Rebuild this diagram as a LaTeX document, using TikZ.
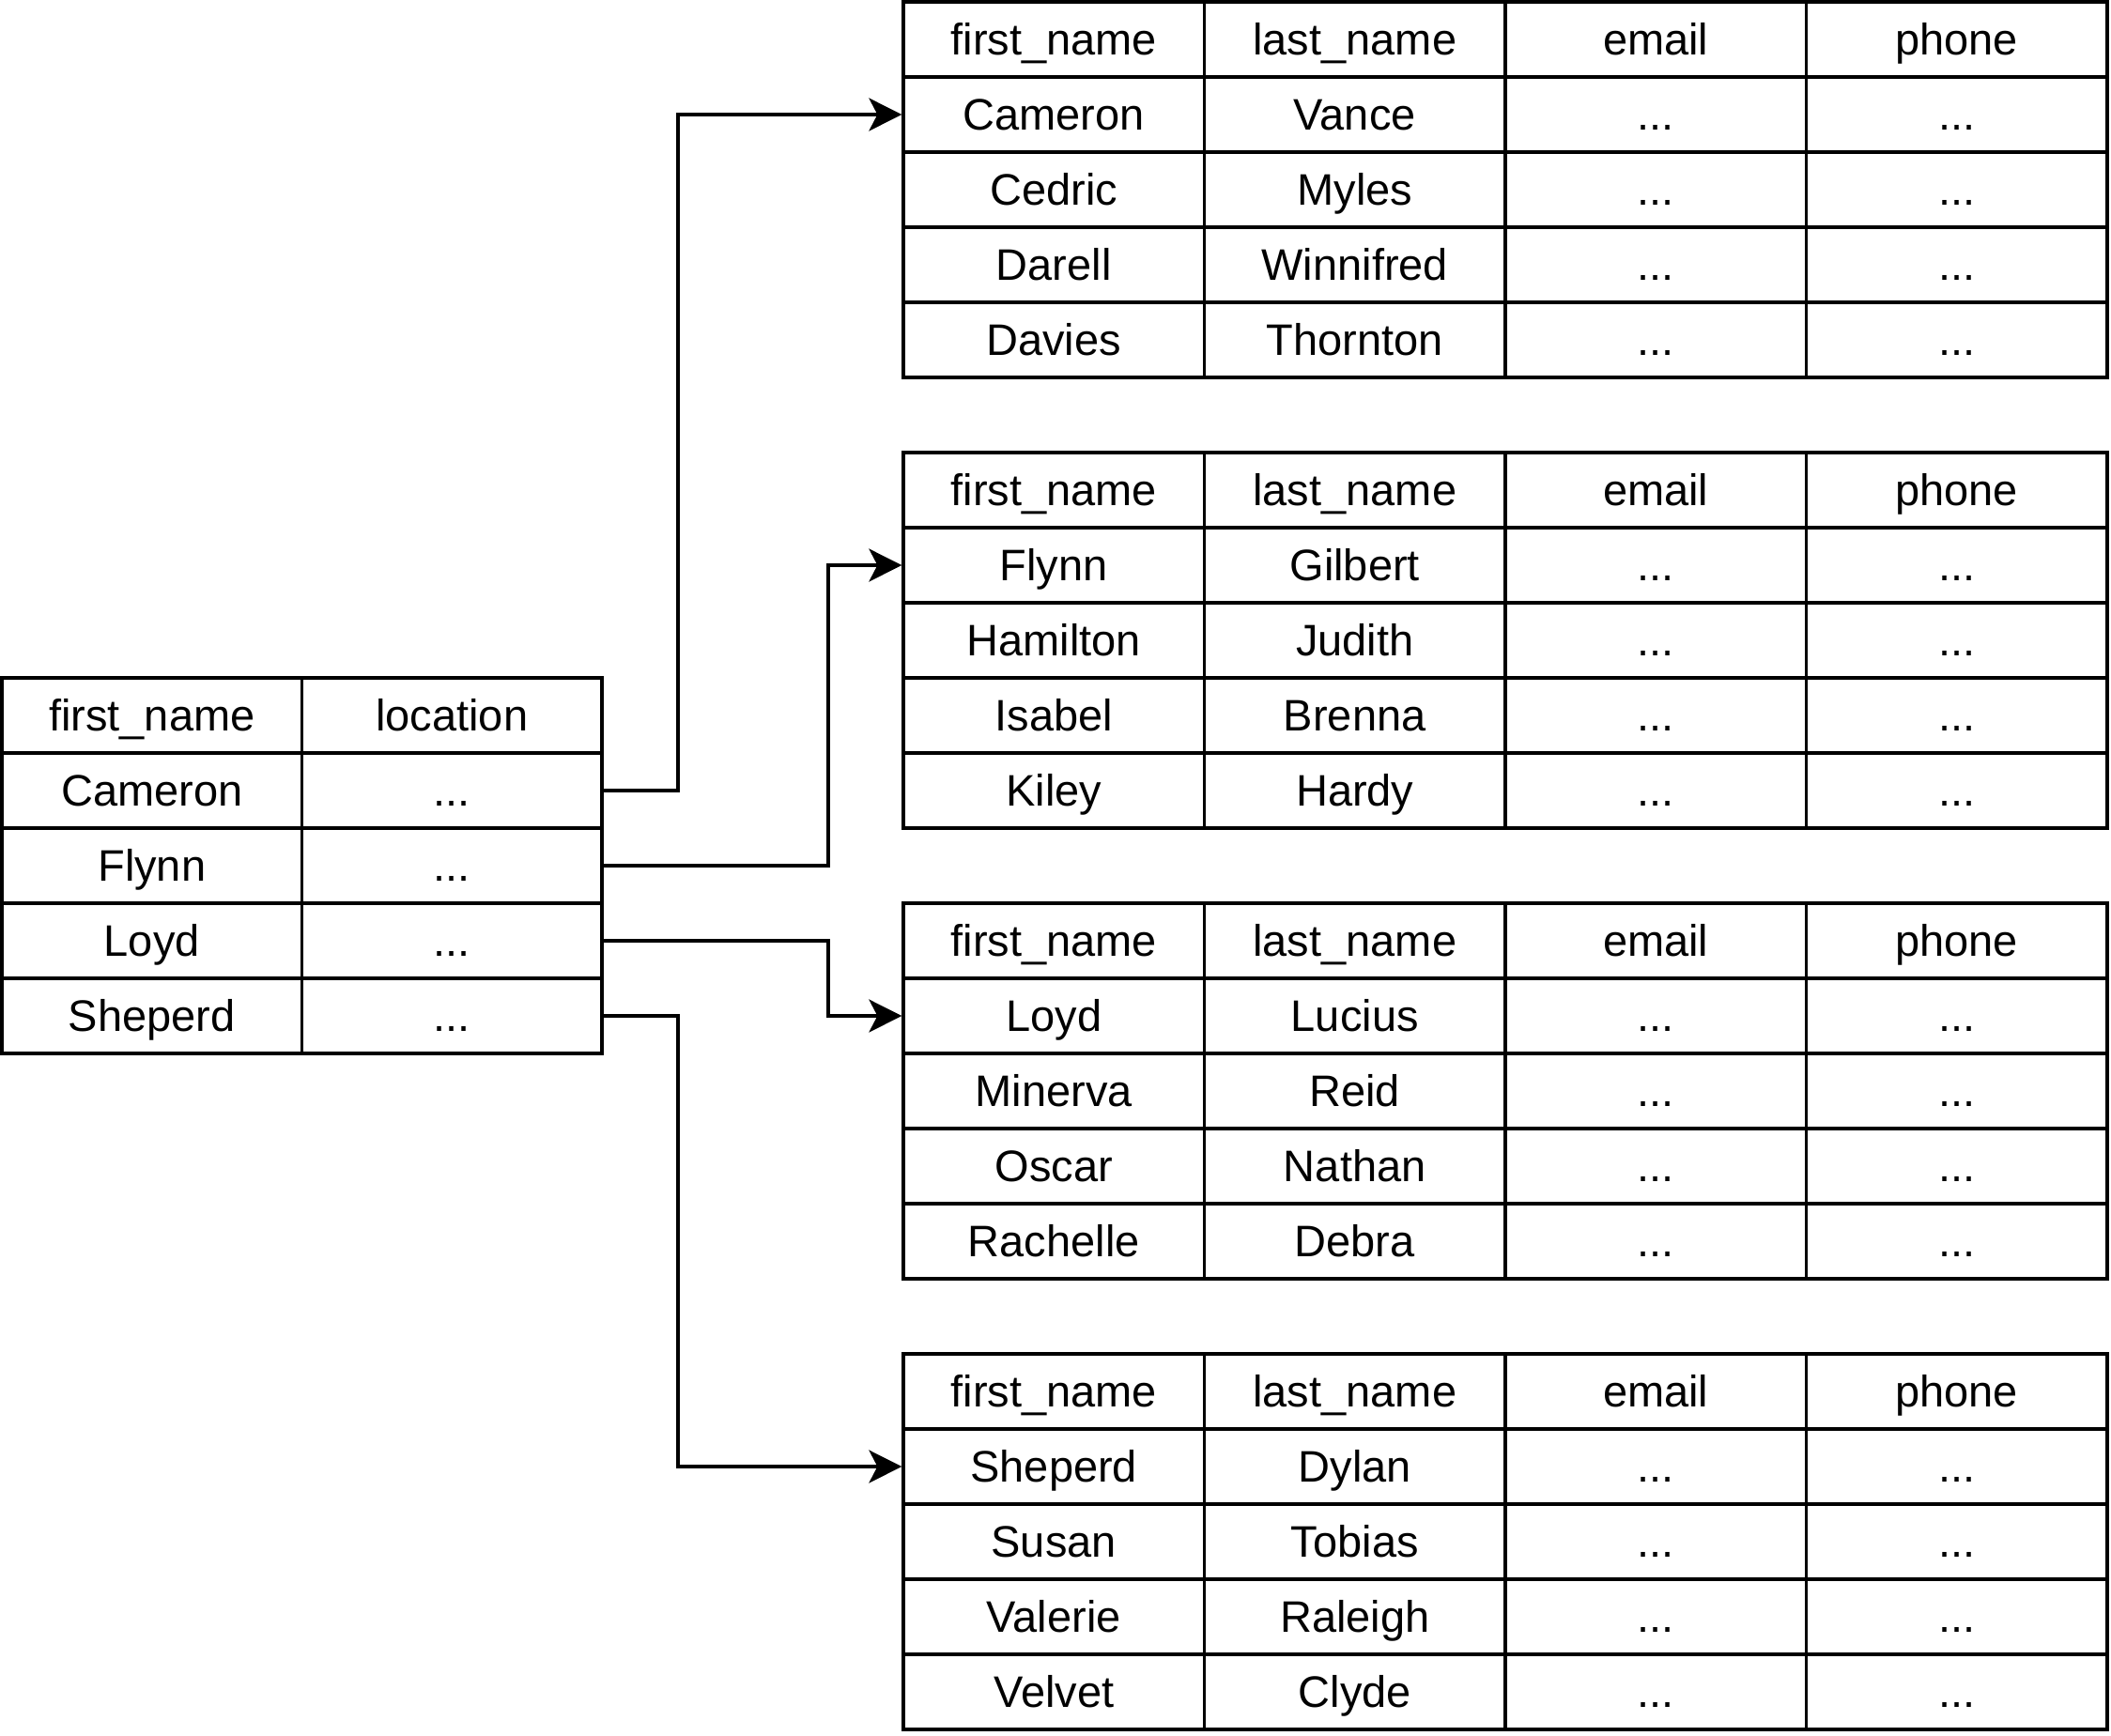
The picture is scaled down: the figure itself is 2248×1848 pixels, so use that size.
\documentclass[tikz,border=0pt]{standalone}
\usepackage{fontspec}
\setmainfont{Liberation Sans}
\usetikzlibrary{arrows.meta}
\newcommand\cellfont{\fontsize{23.5}{28}\selectfont}
\tikzset{
  cell/.style={draw, line width=1.65pt, rectangle, inner sep=0pt,
    minimum width=160.25pt, minimum height=40pt,
    font=\cellfont, text height=16.4pt, text depth=0pt},
  lcell/.style={cell, minimum width=159.75pt},
  link/.style={line width=1.65pt, -{Stealth[length=17.5pt,width=17.5pt,inset=4.5pt]}}
}
\newcommand\rtab[3]{%
  \foreach \h [count=\c] in {first\_name,last\_name,email,phone}
    \node[cell] (#1-0-\c) at ({962+320.5*(\c-1)+160.25},{#2+40}) {\h};
  \foreach \f/\l [count=\r] in {#3} {
    \node[cell] (#1-\r-1) at (1122.25,{#2+40+80*\r}) {\f};
    \node[cell] (#1-\r-2) at (1442.75,{#2+40+80*\r}) {\l};
    \node[cell] (#1-\r-3) at (1763.25,{#2+40+80*\r}) {...};
    \node[cell] (#1-\r-4) at (2083.75,{#2+40+80*\r}) {...};
  }
}
\begin{document}
\begin{tikzpicture}[x=0.5pt,y=-0.5pt]
\useasboundingbox (0,0) rectangle (2248,1848);
% left table
\node[lcell] (L-0-1) at (161.75,762) {first\_name};
\node[lcell] (L-0-2) at (481.25,762) {location};
\foreach \f [count=\r] in {Cameron,Flynn,Loyd,Sheperd} {
  \node[lcell] (L-\r-1) at (161.75,{762+80*\r}) {\f};
  \node[lcell] (L-\r-2) at (481.25,{762+80*\r}) {...};
}
% right tables
\rtab{A}{2}{Cameron/Vance,Cedric/Myles,Darell/Winnifred,Davies/Thornton}
\rtab{B}{482}{Flynn/Gilbert,Hamilton/Judith,Isabel/Brenna,Kiley/Hardy}
\rtab{C}{962}{Loyd/Lucius,Minerva/Reid,Oscar/Nathan,Rachelle/Debra}
\rtab{D}{1442}{Sheperd/Dylan,Susan/Tobias,Valerie/Raleigh,Velvet/Clyde}
% bend columns
\coordinate (bx1) at (722,0);
\coordinate (bx2) at (882,0);
% connectors
\draw[link] (L-1-2.east) -- (L-1-2.east -| bx1) |- (A-1-1.west);
\draw[link] (L-2-2.east) -- (L-2-2.east -| bx2) |- (B-1-1.west);
\draw[link] (L-3-2.east) -- (L-3-2.east -| bx2) |- (C-1-1.west);
\draw[link] (L-4-2.east) -- (L-4-2.east -| bx1) |- (D-1-1.west);
\end{tikzpicture}
\end{document}
